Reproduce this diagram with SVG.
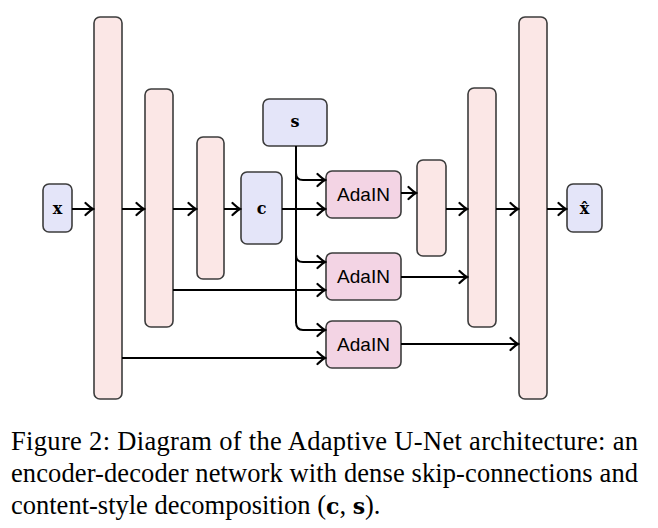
<svg xmlns="http://www.w3.org/2000/svg" width="658" height="528" viewBox="0 0 658 528">
<defs>
<marker id="arr" viewBox="-10 -8 12 16" markerWidth="12" markerHeight="16" refX="0" refY="0" orient="auto" markerUnits="userSpaceOnUse">
<path d="M-7.5,-6 Q-2.5,-1.3 0,0 Q-2.5,1.3 -7.5,6" fill="none" stroke="#000" stroke-width="2.2" stroke-linecap="round"/>
</marker>
<style>
.bar{fill:#fbe7e6;stroke:#3c3c3c;stroke-width:1.6}
.var{fill:#e4e5f9;stroke:#3c3c3c;stroke-width:1.6}
.ada{fill:#f3d4e4;stroke:#3c3c3c;stroke-width:1.6}
.m{font-family:"DejaVu Serif",serif;font-weight:bold;font-size:16px;fill:#000;text-anchor:middle}
.a{font-family:"Liberation Sans",Arial,sans-serif;font-size:19px;fill:#000;text-anchor:middle}
.e{fill:none;stroke:#000;stroke-width:2;marker-end:url(#arr)}
.cap{font-family:"Liberation Serif","Times New Roman",serif;font-size:26.5px;fill:#000}
.bm{font-family:"DejaVu Serif",serif;font-weight:bold;font-size:22px}
</style>
</defs>
<rect width="658" height="528" fill="#fff"/>
<g id="x"><rect class="var" x="43" y="184" width="29" height="48" rx="6"/><text class="m" x="57.5" y="214">x</text></g>
<g id="enc1"><rect class="bar" x="94" y="17" width="28" height="382" rx="6"/></g>
<g id="enc2"><rect class="bar" x="145" y="89" width="28" height="238" rx="6"/></g>
<g id="enc3"><rect class="bar" x="197" y="137" width="27" height="142" rx="6"/></g>
<g id="c"><rect class="var" x="241" y="172" width="41" height="72" rx="6"/><text class="m" x="261.5" y="214">c</text></g>
<g id="s"><rect class="var" x="263" y="99" width="64" height="47" rx="6"/><text class="m" x="295" y="127">s</text></g>
<g id="adain1"><rect class="ada" x="326" y="171" width="75" height="47" rx="6"/><text class="a" x="363.5" y="201">AdaIN</text></g>
<g id="adain2"><rect class="ada" x="326" y="253" width="75" height="47" rx="6"/><text class="a" x="363.5" y="283">AdaIN</text></g>
<g id="adain3"><rect class="ada" x="326" y="321" width="75" height="47" rx="6"/><text class="a" x="363.5" y="351">AdaIN</text></g>
<g id="dec1"><rect class="bar" x="417" y="160" width="29" height="96" rx="6"/></g>
<g id="dec2"><rect class="bar" x="468" y="88" width="28" height="239" rx="6"/></g>
<g id="dec3"><rect class="bar" x="519" y="17" width="28" height="382" rx="6"/></g>
<g id="xhat"><rect class="var" x="567" y="184" width="35" height="48" rx="6"/><text class="m" x="584.5" y="214">x̂</text></g>
<g id="connectors">
<path class="e" d="M72,209 H93"/>
<path class="e" d="M122,209 H144"/>
<path class="e" d="M173,209 H196"/>
<path class="e" d="M224,209 H240"/>
<path class="e" d="M282,209 H325"/>
<path fill="none" stroke="#000" stroke-width="2" d="M296,146 V323"/>
<path class="e" d="M296,173 Q296,180 303,180 H325"/>
<path class="e" d="M296,255 Q296,262 303,262 H325"/>
<path class="e" d="M296,322 Q296,330 303,330 H325"/>
<path class="e" d="M173,290 H325"/>
<path class="e" d="M122,358 H325"/>
<path class="e" d="M401,193 H416"/>
<path class="e" d="M446,209 H467"/>
<path class="e" d="M401,277 H467"/>
<path class="e" d="M496,209 H518"/>
<path class="e" d="M401,344 H518"/>
<path class="e" d="M547,209 H566"/>
</g>
<g id="caption">
<text class="cap" x="11" y="450" textLength="627" lengthAdjust="spacing">Figure 2: Diagram of the Adaptive U-Net architecture: an</text>
<text class="cap" x="11" y="482" textLength="627" lengthAdjust="spacing">encoder-decoder network with dense skip-connections and</text>
<text class="cap" x="11" y="514">content-style decomposition (<tspan class="bm">c</tspan>, <tspan class="bm">s</tspan>).</text>
</g>
</svg>
